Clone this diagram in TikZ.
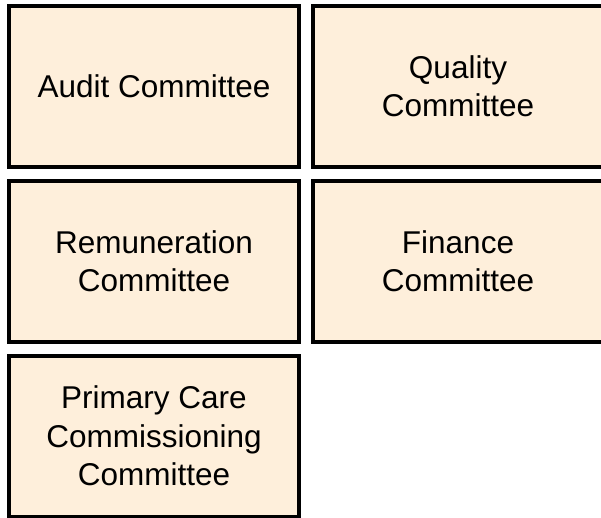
\documentclass[tikz,border=0pt]{standalone}
\usepackage{fontspec}
\setmainfont{Liberation Sans}
\usetikzlibrary{matrix}
\definecolor{boxfill}{RGB}{254,239,219}
\def\lw{4pt}
% stacked, centred lines inside one cell
\newcommand{\lines}[1]{\vbox{\halign{\hfil##\hfil\cr#1\crcr}}}
\tikzset{
	committees/.style={
		matrix of nodes,
		row sep=10pt,
		column sep=10pt,
		inner sep=0pt,
		outer sep=0pt,
		nodes={
			rectangle,
			draw=black,
			fill=boxfill,
			line width=\lw,
			anchor=center,
			align=center,
			minimum width=290pt,
			minimum height=161pt,
			font=\fontsize{31.5}{38.5}\selectfont,
		},
		%nodes in empty cells,
	}
}
\begin{document}
\begin{tikzpicture}[x=1pt,y=-1pt]
	\useasboundingbox (0,0) rectangle (601,518);
	\matrix[committees, anchor=north west, ampersand replacement=\&] (board) at (7,3.5)
	{
		Audit Committee\& \lines{Quality\cr Committee}\\
		\lines{Remuneration\cr Committee}\& \lines{Finance\cr Committee}\\
		\lines{Primary Care\cr Commissioning\cr Committee}\& \\
	};
\end{tikzpicture}
\end{document}
